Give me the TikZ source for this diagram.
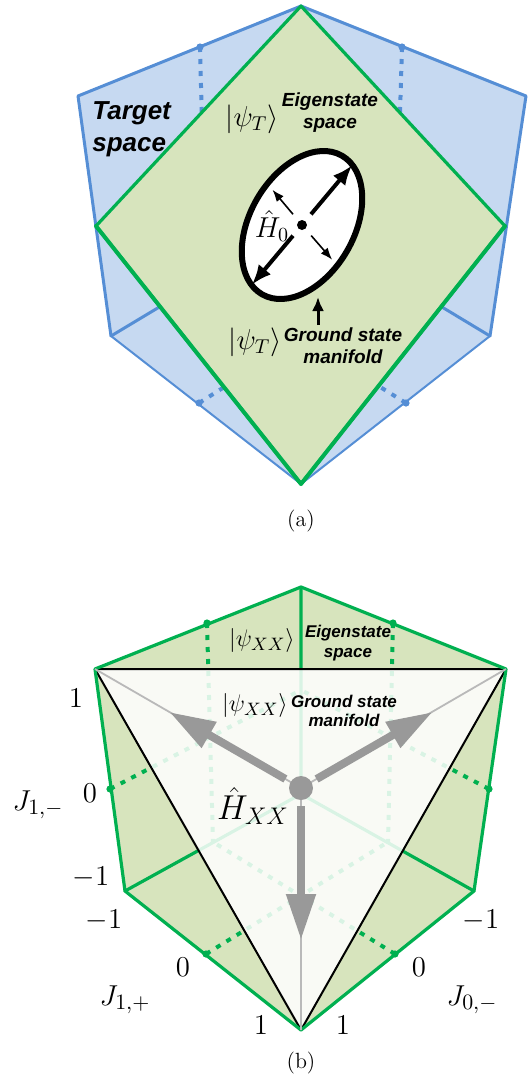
\documentclass[tikz,border=0pt]{standalone}
\usepackage{fontspec}
\usepackage{amsmath}
\usepackage{tikz}
\usetikzlibrary{arrows.meta}

\newfontfamily\tagfont{Liberation Sans}
\definecolor{cubeblue}{RGB}{85,142,213}
\definecolor{cubefill}{RGB}{198,217,241}
\definecolor{planegreen}{RGB}{0,176,80}
\definecolor{planefill}{RGB}{215,228,189}
\definecolor{flowgray}{RGB}{153,153,153}

\begin{document}
\begin{tikzpicture}[
    x=0.5pt, y=-0.5pt,
    blueedge/.style={cubeblue, line width=1.5pt, line join=round, line cap=round},
    greenedge/.style={planegreen, line width=1.6pt, line join=round, line cap=round},
    zeroline/.style={line width=2pt, line cap=butt, dash pattern=on 2.5pt off 3.5pt},
    ket/.style={font=\fontsize{14.5}{16}\selectfont, inner sep=0pt},
    note/.style={font=\tagfont\bfseries\itshape\fontsize{9.5}{11}\selectfont,
                 align=center, inner sep=0pt},
    smallnote/.style={note, font=\tagfont\bfseries\itshape\fontsize{8.5}{9.7}\selectfont},
    axisnum/.style={font=\fontsize{15}{17}\selectfont, inner sep=0pt},
    subcap/.style={font=\fontsize{11}{13}\selectfont, inner sep=0pt},
    flowarrow/.style={flowgray, line width=4pt, -{Triangle[length=23pt, width=14pt]}},
    flowline/.style={gray!55, line width=0.9pt},
]
\useasboundingbox (0,0) rectangle (527,1078);

% ---------- (a) ----------
% cube corners
\coordinate (a-top) at (301,6);
\coordinate (a-ul)  at (78,96);
\coordinate (a-ll)  at (111,336);
\coordinate (a-bot) at (301,484);
\coordinate (a-lr)  at (490,336);
\coordinate (a-ur)  at (526,96);
\coordinate (a-c)   at (301,222);
\coordinate (a-cl)  at (206,279);
\coordinate (a-cr)  at (395,279);
% zero marks
\coordinate (a-m1) at (200,47);
\coordinate (a-m2) at (402,47);
\coordinate (a-m3) at (199,403);
\coordinate (a-m4) at (406,403);
% eigenstate plane
\coordinate (a-pl) at (96,226);
\coordinate (a-pr) at (505,226);

\fill[cubefill] (a-top) -- (a-ul) -- (a-ll) -- (a-bot) -- (a-lr) -- (a-ur) -- cycle;
\draw[blueedge] (a-c) -- (a-ll) (a-c) -- (a-lr) (a-c) -- (a-top);
\draw[blueedge, zeroline] (a-m1) -- (a-cl) (a-m2) -- (a-cr)
    (a-m3) -- (a-cr) (a-m4) -- (a-cl);
\draw[blueedge] (a-ll) -- (a-ul) -- (a-top) -- (a-ur) -- (a-lr);
\draw[blueedge, line width=1pt] (a-ll) -- (a-bot) -- (a-lr);
\foreach \m in {m1,m2,m3,m4}
    \fill[cubeblue] (a-\m) circle (1.8pt);
\filldraw[greenedge, fill=planefill] (a-top) -- (a-pl) -- (a-bot) -- (a-pr) -- cycle;
\draw[greenedge, line width=2pt] (a-pl) -- (a-bot) -- (a-pr);

% ground state manifold
\coordinate (a-h) at (302,225);
\draw[line width=3pt, fill=white, rotate around={60:(a-h)}]
    (a-h) ellipse [x radius=40pt, y radius=26pt];
\fill (a-h) circle (2.5pt);
\foreach \ang in {50,230}
    \draw[line width=2pt, -{Latex[length=10pt, width=8pt]}]
        ([shift={(\ang:7pt)}]a-h) -- ([shift={(\ang:39pt)}]a-h);
\foreach \ang in {130,311}
    \draw[line width=0.8pt, -{Latex[length=6pt, width=4.5pt]}]
        ([shift={(\ang:7pt)}]a-h) -- ([shift={(\ang:23pt)}]a-h);
\coordinate (a-upbase) at (318,325);
\coordinate (a-uptip)  at (318,297);
\draw[line width=1.5pt, -{Latex[length=7pt, width=6pt]}] (a-upbase) -- (a-uptip);

% labels
\node[note, font=\tagfont\bfseries\itshape\fontsize{13}{16}\selectfont,
      align=left, anchor=west] (a-target) at (92,129) {Target\\space};
\node[ket] (a-ket1) at (252,119) {$\lvert\psi_T\rangle$};
\node[note] (a-eig) at (330,113) {Eigenstate\\space};
\node[ket] (a-h0) at (272,226) {$\hat{H}_0$};
\node[ket] (a-ket2) at (255,342) {$\lvert\psi_T\rangle$};
\node[note] (a-gs) at (343,346) {Ground state\\manifold};
\node[subcap] (a-cap) at (301,521) {(a)};

% ---------- (b) ----------
% cube corners
\coordinate (b-top) at (301,587);
\coordinate (b-ul)  at (95,669);
\coordinate (b-ll)  at (125,891);
\coordinate (b-bot) at (301,1030);
\coordinate (b-lr)  at (474,891);
\coordinate (b-ur)  at (506,669);
\coordinate (b-c)   at (301,794);
\coordinate (b-ct)  at (301,690);
\coordinate (b-cl)  at (213,842);
\coordinate (b-cr)  at (388,842);
% zero marks
\coordinate (b-m1) at (207,623);
\coordinate (b-m2) at (393,623);
\coordinate (b-m3) at (110,789);
\coordinate (b-m4) at (489,789);
\coordinate (b-m5) at (206,954);
\coordinate (b-m6) at (395,954);

\fill[planefill] (b-top) -- (b-ul) -- (b-ll) -- (b-bot) -- (b-lr) -- (b-ur) -- cycle;
\draw[greenedge] (b-c) -- (b-top) (b-c) -- (b-ll) (b-c) -- (b-lr);
\draw[greenedge, zeroline] (b-m1) -- (b-cl) (b-m6) -- (b-cl)
    (b-m2) -- (b-cr) (b-m5) -- (b-cr) (b-m3) -- (b-ct) (b-m4) -- (b-ct);
% ground state plane
\fill[white, fill opacity=0.85] (b-ul) -- (b-ur) -- (b-bot) -- cycle;
\draw[line width=1pt, line join=round] (b-ul) -- (b-ur) -- (b-bot) -- cycle;
\draw[greenedge] (b-top) -- (b-ul) -- (b-ll) -- (b-bot) -- (b-lr) -- (b-ur) -- cycle;
\foreach \m in {m1,m2,m3,m4,m5,m6}
    \fill[planegreen] (b-\m) circle (1.8pt);

% flow out of H_XX
\coordinate (b-h) at (301,788);
\draw[flowline] (b-h) -- (b-ul) (b-h) -- (b-ur) (b-h) -- (b-bot);
\foreach \ang in {150,30,270}
    \draw[flowarrow] ([shift={(\ang:9pt)}]b-h) -- ([shift={(\ang:76pt)}]b-h);
\fill[flowgray] (b-h) circle (6pt);

% labels
\node[ket, font=\fontsize{13}{15}\selectfont] (b-ket1) at (262,640) {$\lvert\psi_{XX}\rangle$};
\node[smallnote] (b-eig) at (348,643) {Eigenstate\\space};
\node[ket, font=\fontsize{13}{15}\selectfont] (b-ket2) at (255,705) {$\lvert\psi_{XX}\rangle$};
\node[smallnote] (b-gs) at (344,711) {Ground state\\manifold};
\node[ket, font=\fontsize{17}{19}\selectfont] (b-hxx) at (253,806) {$\hat{H}_{XX}$};

% axis values
\node[axisnum] (b-ul1)  at (76,698)   {$1$};
\node[axisnum] (b-l0)   at (90,793)   {$0$};
\node[axisnum] (b-jm)   at (38,805)   {$J_{1,-}$};
\node[axisnum] (b-ll1)  at (91,877)   {$-1$};
\node[axisnum] (b-ll2)  at (104,920)  {$-1$};
\node[axisnum] (b-b0)   at (183,967)  {$0$};
\node[axisnum] (b-jp)   at (125,1000) {$J_{1,+}$};
\node[axisnum] (b-bl1)  at (261,1025) {$1$};
\node[axisnum] (b-br1)  at (343,1025) {$1$};
\node[axisnum] (b-r0)   at (419,967)  {$0$};
\node[axisnum] (b-lr1)  at (481,920)  {$-1$};
\node[axisnum] (b-jz)   at (472,1000) {$J_{0,-}$};
\node[subcap] (b-cap) at (301,1063) {(b)};
\end{tikzpicture}
\end{document}
